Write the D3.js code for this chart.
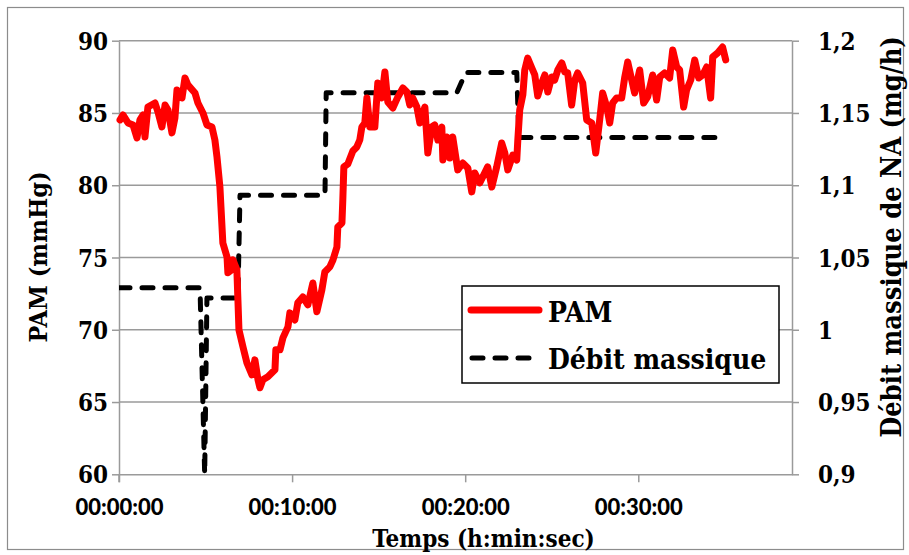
<!DOCTYPE html>
<html>
<head>
<meta charset="utf-8">
<script src="https://cdn.jsdelivr.net/npm/d3@7"></script>
<style>
  html, body { margin: 0; padding: 0; background: #fff; }
  svg { display: block; }
  .serif { font-family: "DejaVu Serif Condensed", "DejaVu Serif", serif; font-stretch: condensed; font-weight: bold; fill: #000; }
  .sans { font-family: Lato, "Open Sans", sans-serif; font-weight: 900; fill: #000; }
</style>
</head>
<body>
<svg id="chart" width="909" height="555"></svg>
<script>
// ---- Data (minutes since start) ----
const pamTime = [0.06,0.23,0.52,0.81,1.04,1.21,1.39,1.50,1.67,2.08,2.25,2.48,2.66,2.83,3.06,3.23,3.35,3.64,3.81,3.98,
  4.39,4.56,4.85,5.08,5.37,5.54,5.66,5.83,5.89,6.00,6.24,6.29,6.52,6.58,6.81,6.87,6.93,7.16,7.39,7.68,
  7.85,8.03,8.14,8.31,8.60,9.01,9.06,9.30,9.47,9.76,9.87,10.16,10.33,10.62,10.91,11.20,11.43,11.72,11.89,12.18,
  12.36,12.59,12.64,12.88,12.93,12.99,13.22,13.51,13.74,13.91,14.03,14.20,14.32,14.49,14.78,14.95,15.18,15.36,15.53,15.82,
  16.11,16.40,16.63,16.80,16.97,17.21,17.38,17.67,17.84,18.07,18.24,18.42,18.65,18.71,18.94,19.11,19.28,19.57,19.86,20.15,
  20.38,20.55,20.84,21.13,21.30,21.54,21.82,22.11,22.29,22.46,22.75,22.98,23.04,23.15,23.33,23.44,23.61,23.85,24.02,24.19,
  24.42,24.60,24.77,25.00,25.17,25.35,25.58,25.75,25.92,26.15,26.33,26.50,26.79,27.02,27.31,27.54,27.77,27.94,28.18,28.35,
  28.52,28.75,29.04,29.21,29.39,29.62,29.79,30.08,30.31,30.54,30.83,31.06,31.24,31.52,31.81,31.99,32.22,32.39,32.62,32.79,
  33.03,33.26,33.49,33.72,33.95,34.18,34.30,34.58,34.87,35.05];
const pamValues = [84.52,84.86,84.31,84.17,83.27,84.52,84.86,83.34,85.41,85.69,85.07,84.03,85.55,85.21,83.62,84.65,86.59,86.04,87.42,86.94,
  86.38,85.69,85.00,84.17,84.03,83.13,81.96,79.88,78.50,76.01,75.04,73.94,74.15,74.84,74.15,72.07,69.99,68.82,67.71,66.88,
  67.92,66.54,65.99,66.54,66.75,67.23,68.61,68.61,69.44,70.20,71.17,70.68,71.86,72.27,71.72,73.24,71.24,72.76,74.00,74.35,
  74.83,75.73,77.11,77.39,78.98,81.27,81.47,82.37,82.65,83.13,84.03,84.31,86.04,84.03,84.03,87.07,86.04,87.84,85.76,85.34,
  86.11,86.73,86.45,85.55,86.04,85.41,84.31,85.41,82.23,84.03,84.17,83.13,84.03,81.75,83.34,81.89,83.34,81.06,81.54,81.20,
  79.54,80.85,80.16,80.85,81.27,79.88,81.27,82.92,82.23,81.06,82.09,81.75,83.13,85.21,86.25,87.97,88.80,88.11,87.63,86.18,
  87.07,87.63,86.45,87.49,87.28,87.97,88.46,87.84,87.77,85.55,87.28,87.77,87.07,84.52,84.31,82.23,84.52,86.38,85.41,84.31,
  85.69,86.04,86.04,87.42,88.53,87.28,86.38,87.97,85.69,86.11,87.63,85.90,87.49,87.77,87.42,89.36,88.18,87.97,85.41,86.59,
  87.28,88.67,87.42,87.63,88.18,86.04,88.87,89.15,89.56,88.67];

const debitTime   = [0, 4.68, 4.95, 5.08, 6.87, 6.99, 11.90, 11.97, 19.52, 20.03, 22.98, 23.10, 34.58];
const debitValues = [1.029, 1.029, 0.90, 1.022, 1.022, 1.093, 1.093, 1.164, 1.164, 1.178, 1.178, 1.133, 1.133];

const xTicks  = [0, 10, 20, 30];
const yLTicks = [60, 65, 70, 75, 80, 85, 90];
const yRTicks = [0.9, 0.95, 1, 1.05, 1.1, 1.15, 1.2];
const seriesNames = ["PAM", "Débit massique"];
const xTitle = "Temps (h:min:sec)";
const yLTitle = "PAM (mmHg)";
const yRTitle = "Débit massique de NA (mg/h)";

// ---- Layout ----
const L = 119, R = 792, T = 40.7, B = 474.3;
const svg = d3.select("#chart");

const x  = d3.scaleLinear().domain([0, 38.88]).range([L, R]);
const yL = d3.scaleLinear().domain([60, 90]).range([B, T]);
const yR = d3.scaleLinear().domain([0.9, 1.2]).range([B, T]);

const gridColor = "#9a9a9a";

// outer border
svg.append("rect").attr("x", 7.5).attr("y", 7.5).attr("width", 896).attr("height", 542)
  .attr("fill", "#fff").attr("stroke", "#8c8c8c").attr("stroke-width", 1.2);

// gridlines
svg.append("g").selectAll("line").data(yLTicks.filter(d => d !== 60)).join("line")
  .attr("x1", L).attr("x2", R).attr("y1", d => yL(d)).attr("y2", d => yL(d))
  .attr("stroke", gridColor).attr("stroke-width", 1.5);

// axes
const fmt2 = d3.format("02d");
const fmtTime = m => { const s = Math.round(m * 60); return fmt2(Math.floor(s/3600)) + ":" + fmt2(Math.floor(s/60)%60) + ":" + fmt2(s%60); };
const commaFmt = d => String(d).replace(".", ",");

const gx = svg.append("g").attr("transform", `translate(0,${B})`)
  .call(d3.axisBottom(x).tickValues(xTicks).tickSize(8).tickSizeOuter(0).tickPadding(17).tickFormat(fmtTime));
gx.selectAll("text").attr("class", "sans").style("font-size", "22px").attr("dy", "0.72em");

const gyl = svg.append("g").attr("transform", `translate(${L},0)`)
  .call(d3.axisLeft(yL).tickValues(yLTicks).tickSize(7).tickSizeOuter(0).tickPadding(4).tickFormat(d => d));
gyl.selectAll("text").attr("class", "serif").style("font-size", "24px").attr("dy", "0.36em");

const gyr = svg.append("g").attr("transform", `translate(${R},0)`)
  .call(d3.axisRight(yR).tickValues(yRTicks).tickSize(7).tickSizeOuter(0).tickPadding(19).tickFormat(commaFmt));
gyr.selectAll("text").attr("class", "serif").style("font-size", "24px").attr("dy", "0.36em");

[gx, gyl, gyr].forEach(g => {
  g.selectAll(".domain").attr("stroke", gridColor).attr("stroke-width", 1.5);
  g.selectAll(".tick line").attr("stroke", gridColor).attr("stroke-width", 1.5);
});
svg.append("line").attr("x1", L).attr("x2", L).attr("y1", B).attr("y2", B + 8)
  .attr("stroke", gridColor).attr("stroke-width", 1.5);

// clip
svg.append("clipPath").attr("id", "plotclip").append("rect")
  .attr("x", L).attr("y", T - 10).attr("width", R - L).attr("height", B - T + 10);

// dashed series
const debitData = debitTime.map((t, i) => [t, debitValues[i]]);
svg.append("path").attr("clip-path", "url(#plotclip)")
  .attr("d", d3.line().x(d => x(d[0])).y(d => yR(d[1]))(debitData))
  .attr("fill", "none").attr("stroke", "#000").attr("stroke-width", 5)
  .attr("stroke-dasharray", "11,12").attr("stroke-linecap", "round").attr("stroke-linejoin", "round");

// PAM series
const pamData = pamTime.map((t, i) => [t, pamValues[i]]);
svg.append("path")
  .attr("d", d3.line().x(d => x(d[0])).y(d => yL(d[1]))(pamData))
  .attr("fill", "none").attr("stroke", "#ff0000").attr("stroke-width", 7)
  .attr("stroke-linecap", "round").attr("stroke-linejoin", "round");

// axis titles
svg.append("text").attr("class", "serif").style("font-size", "24px")
  .attr("x", 483.5).attr("y", 547).attr("text-anchor", "middle").text(xTitle);
svg.append("text").attr("class", "serif").style("font-size", "25px")
  .attr("transform", "translate(47,257) rotate(-90)").attr("text-anchor", "middle").text(yLTitle);
svg.append("text").attr("class", "serif").style("font-size", "27px")
  .attr("transform", "translate(901,237) rotate(-90)").attr("text-anchor", "middle").text(yRTitle);

// legend
const lg = svg.append("g");
lg.append("rect").attr("x", 462).attr("y", 286).attr("width", 317).attr("height", 97)
  .attr("fill", "#fff").attr("stroke", "#000").attr("stroke-width", 1.5);
lg.append("line").attr("x1", 471).attr("x2", 539).attr("y1", 310).attr("y2", 310)
  .attr("stroke", "#ff0000").attr("stroke-width", 7).attr("stroke-linecap", "round");
lg.append("line").attr("x1", 472).attr("x2", 538).attr("y1", 358).attr("y2", 358)
  .attr("stroke", "#000").attr("stroke-width", 5).attr("stroke-dasharray", "11,12").attr("stroke-linecap", "round");
lg.append("text").attr("class", "serif").style("font-size", "28px").attr("x", 548).attr("y", 322).text(seriesNames[0]);
lg.append("text").attr("class", "serif").style("font-size", "28px").attr("x", 548).attr("y", 369).text(seriesNames[1]);
</script>
</body>
</html>
